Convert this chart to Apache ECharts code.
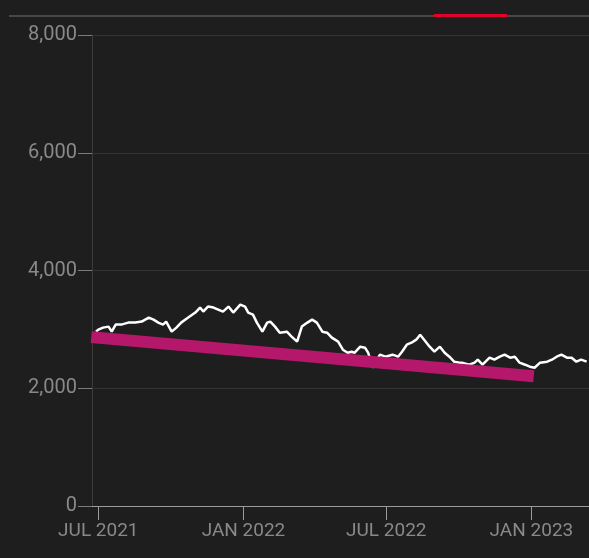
<!DOCTYPE html>
<html>
<head>
<meta charset="utf-8">
<title>price chart</title>
<script src="https://cdn.jsdelivr.net/npm/echarts@6/dist/echarts.min.js"></script>
<style>
  html, body { margin: 0; padding: 0; background: #1e1e1e; }
  #main { width: 589px; height: 558px; }
</style>
</head>
<body>
<div id="main"></div>
<script>
// price points (date, value)
const priceDates = [
  '2021-06-28', '2021-07-01', '2021-07-07', '2021-07-14', '2021-07-18', '2021-07-23', '2021-07-30',
  '2021-08-08', '2021-08-17', '2021-08-25', '2021-09-03', '2021-09-09', '2021-09-15', '2021-09-21',
  '2021-09-25', '2021-10-02', '2021-10-08', '2021-10-14', '2021-10-23', '2021-11-01', '2021-11-07',
  '2021-11-11', '2021-11-17', '2021-11-24', '2021-11-30', '2021-12-06', '2021-12-13', '2021-12-19',
  '2021-12-28', '2022-01-03', '2022-01-07', '2022-01-13', '2022-01-18', '2022-01-25', '2022-01-31',
  '2022-02-04', '2022-02-10', '2022-02-16', '2022-02-25', '2022-03-03', '2022-03-10', '2022-03-16',
  '2022-03-23', '2022-03-29', '2022-04-04', '2022-04-11', '2022-04-17', '2022-04-23', '2022-05-01',
  '2022-05-07', '2022-05-13', '2022-05-18', '2022-05-22', '2022-05-29', '2022-06-04', '2022-06-08',
  '2022-06-14', '2022-06-23', '2022-06-30', '2022-07-09', '2022-07-16', '2022-07-21', '2022-07-27',
  '2022-08-02', '2022-08-08', '2022-08-13', '2022-08-18', '2022-08-25', '2022-08-31', '2022-09-07',
  '2022-09-13', '2022-09-19', '2022-09-25', '2022-10-02', '2022-10-05', '2022-10-14', '2022-10-21',
  '2022-10-25', '2022-10-31', '2022-11-09', '2022-11-15', '2022-11-22', '2022-11-28', '2022-12-05',
  '2022-12-11', '2022-12-17', '2022-12-24', '2022-12-30', '2023-01-05', '2023-01-12', '2023-01-21',
  '2023-01-27', '2023-02-02', '2023-02-08', '2023-02-15', '2023-02-21', '2023-02-27', '2023-03-05',
  '2023-03-12'
]
const priceValues = [
  2961, 2996, 3030, 3047, 2961, 3081, 3081,
  3115, 3115, 3132, 3200, 3166, 3115, 3081,
  3132, 2961, 3030, 3115, 3200, 3285, 3370,
  3302, 3387, 3370, 3336, 3302, 3387, 3285,
  3421, 3387, 3285, 3251, 3115, 2961, 3115,
  3132, 3047, 2944, 2961, 2876, 2791, 3047,
  3115, 3166, 3115, 2961, 2944, 2859, 2791,
  2655, 2604, 2621, 2604, 2706, 2689, 2604,
  2350, 2570, 2536, 2570, 2536, 2621, 2740,
  2774, 2825, 2910, 2825, 2706, 2621, 2706,
  2604, 2536, 2451, 2434, 2434, 2400, 2434,
  2485, 2400, 2519, 2485, 2536, 2570, 2519,
  2536, 2434, 2400, 2366, 2349, 2434, 2451,
  2485, 2536, 2570, 2519, 2519, 2451, 2485,
  2451
]

// trend line end points
const trendDates = ['2021-06-22', '2023-01-04']
const trendValues = [2868, 2204]

// axis ticks
const xTickDates = ['2021-07-01', '2022-01-01', '2022-07-01', '2023-01-01']
const xTickLabels = ['JUL 2021', 'JAN 2022', 'JUL 2022', 'JAN 2023']
const yTicks = [0, 2000, 4000, 6000, 8000]

const xMin = '2021-06-23'
const xMax = '2023-03-15'

// dates -> ms, the x axis is a plain value axis over timestamps
const ts = d => new Date(d + 'T00:00:00Z').getTime()
const xTickValues = xTickDates.map(ts)

let myChart = echarts.init(document.getElementById('main'))

myChart.setOption({
  backgroundColor: '#1e1e1e',
  animation: false,
  textStyle: { fontFamily: 'Roboto' },
  grid: { left: 92, right: 0, top: 35, bottom: 52 },
  // top rule with the red marker
  graphic: [
    { type: 'line', shape: { x1: 9, y1: 16, x2: 589, y2: 16 }, style: { stroke: '#484848', lineWidth: 2 } },
    { type: 'rect', shape: { x: 434, y: 14, width: 73, height: 3 }, style: { fill: '#e0002a' } }
  ],
  xAxis: {
    type: 'value',
    min: ts(xMin),
    max: ts(xMax),
    splitLine: { show: false },
    axisLine: { lineStyle: { color: '#9a9a9a', width: 1 } },
    axisTick: {
      length: 14,
      lineStyle: { color: '#9a9a9a' },
      customValues: xTickValues
    },
    axisLabel: {
      color: '#898989',
      fontSize: 19,
      margin: 16,
      customValues: xTickValues,
      formatter: v => {
        const i = xTickValues.indexOf(v)
        return i >= 0 ? xTickLabels[i] : ''
      }
    }
  },
  yAxis: {
    type: 'value',
    min: yTicks[0],
    max: yTicks[yTicks.length - 1],
    interval: 2000,
    axisLine: { show: true, lineStyle: { color: '#3c3c3c' } },
    axisTick: { show: true, length: 14, lineStyle: { color: '#7c7c7c' } },
    splitLine: { lineStyle: { color: '#333333' } },
    axisLabel: {
      color: '#898989',
      fontSize: 20,
      margin: 15,
      formatter: v => v.toLocaleString('en-US')
    }
  },
  series: [
    {
      name: 'price',
      type: 'line',
      showSymbol: false,
      z: 2,
      lineStyle: { color: '#ffffff', width: 2.5 },
      data: priceDates.map((d, i) => [ts(d), priceValues[i]])
    },
    {
      name: 'trend',
      type: 'line',
      showSymbol: false,
      z: 3,
      lineStyle: { color: '#b5176b', width: 12, cap: 'butt' },
      data: trendDates.map((d, i) => [ts(d), trendValues[i]])
    }
  ]
})
</script>
</body>
</html>
